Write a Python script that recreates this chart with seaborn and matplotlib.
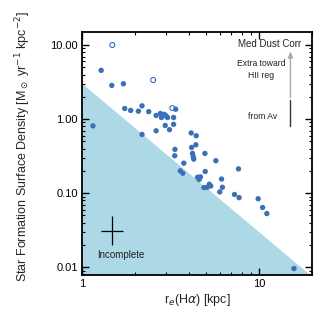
import matplotlib
matplotlib.use("Agg")
import matplotlib.pyplot as plt
import numpy as np
import pandas as pd
import seaborn as sns

# filled points: r_e(Halpha) [kpc], SFR surface density
r_e = [1.15, 1.28, 1.47, 1.71, 1.74, 1.88, 2.08, 2.18, 2.18, 2.38,
       2.62, 2.62, 2.77, 2.81, 2.91, 2.98, 3.04, 2.95, 3.12, 3.29,
       3.29, 3.38, 3.35, 3.34, 3.76, 3.59, 3.71, 4.14, 4.42, 4.16,
       4.40, 4.21, 4.25, 4.28, 4.50, 4.59, 4.67, 4.95, 4.97, 4.89,
       5.10, 5.24, 5.34, 5.71, 6.15, 6.22, 6.01, 7.28, 7.67, 7.73,
       9.91, 10.5, 11.1, 15.8]
sigma_sfr = [0.81, 4.55, 2.85, 3.0, 1.39, 1.31, 1.28, 1.51, 0.62, 1.26,
             1.12, 0.695, 1.19, 1.05, 1.16, 1.11, 1.05, 0.82, 0.72, 1.05,
             0.85, 1.36, 0.39, 0.32, 0.254, 0.20, 0.186, 0.65, 0.596, 0.414,
             0.45, 0.344, 0.31, 0.288, 0.164, 0.153, 0.166, 0.344, 0.196, 0.119,
             0.12, 0.132, 0.125, 0.274, 0.155, 0.12, 0.104, 0.096, 0.213, 0.087,
             0.084, 0.064, 0.053, 0.0096]

# open points
r_e_open = [1.48, 2.52, 3.24]
sigma_open = [10.0, 3.37, 1.41]

# incompleteness boundary: Sigma = 3 / r^2
limit_r = [1.0, 20.0]
limit_sigma = [3.0, 0.0075]

# typical error cross (dex)
err_x, err_y = 1.48, 0.0313
err_dx, err_dy = 0.063, 0.19

# dust correction arrow
arrow_x = 15.1
arrow_av = [0.81, 1.81]
arrow_top = 9.0

sns.set_theme(style="ticks")
plt.rcParams["font.family"] = ["Liberation Sans", "DejaVu Sans"]
plt.rcParams["mathtext.fontset"] = "dejavusans"

fig = plt.figure(figsize=(3.2, 3.2), dpi=100)
ax = fig.add_axes([0.257, 0.14, 0.718, 0.76])

ax.fill_between(limit_r, limit_sigma, 1e-4, color="#add8e6", lw=0, zorder=0)

df = pd.DataFrame({"r": r_e, "s": sigma_sfr})
sns.scatterplot(data=df, x="r", y="s", ax=ax, color="#3b70b8", s=15,
                edgecolor="none", zorder=3)
ax.scatter(r_e_open, sigma_open, s=13, facecolor="none",
           edgecolor="#3b70b8", linewidth=0.8, zorder=3)

xlo, xhi = err_x / 10**err_dx, err_x * 10**err_dx
ylo, yhi = err_y / 10**err_dy, err_y * 10**err_dy
ax.errorbar(err_x, err_y, xerr=[[err_x - xlo], [xhi - err_x]],
            yerr=[[err_y - ylo], [yhi - err_y]], fmt="none",
            ecolor="black", elinewidth=0.9, capsize=0)
ax.text(1.65, 0.0145, "Incomplete", fontsize=7, ha="center", va="center",
        color="#222222")

ax.plot([arrow_x, arrow_x], arrow_av, color="#333333", lw=1.0, zorder=4)
ax.annotate("", xy=(arrow_x, arrow_top), xytext=(arrow_x, arrow_av[1]),
            arrowprops=dict(arrowstyle="-|>,head_width=0.12,head_length=0.3",
                            color="#aaaaaa", lw=1.0))
ax.text(0.955, 0.951, "Med Dust Corr", transform=ax.transAxes, fontsize=7,
        ha="right", va="center", color="#222222")
ax.text(0.78, 0.872, "Extra toward", transform=ax.transAxes, fontsize=6.2,
        ha="center", va="center", color="#222222")
ax.text(0.78, 0.823, "HII reg", transform=ax.transAxes, fontsize=6.2,
        ha="center", va="center", color="#222222")
ax.text(0.785, 0.651, "from Av", transform=ax.transAxes, fontsize=6.2,
        ha="center", va="center", color="#222222")

ax.set_xscale("log")
ax.set_yscale("log")
ax.set_xlim(1, 20)
ax.set_ylim(0.0078, 15)
ax.set_xticks([1, 10])
ax.set_xticklabels(["1", "10"])
ax.set_yticks([0.01, 0.1, 1, 10])
ax.set_yticklabels(["0.01", "0.10", "1.00", "10.00"])
ax.tick_params(which="both", direction="in", top=True, right=True,
               colors="black", labelsize=8, pad=3)
ax.tick_params(which="major", length=5, width=1.0)
ax.tick_params(which="minor", length=2.5, width=0.8)
for sp in ax.spines.values():
    sp.set_linewidth(1.3)
    sp.set_color("black")

ax.set_xlabel(r"r$_e$(H$\alpha$) [kpc]", fontsize=9, labelpad=2)
ax.set_ylabel(r"Star Formation Surface Density [M$_\odot$ yr$^{-1}$ kpc$^{-2}$]",
              fontsize=9, labelpad=4)
ax.yaxis.set_label_coords(-0.215, 0.53)

fig.savefig("out.png", dpi=100)
